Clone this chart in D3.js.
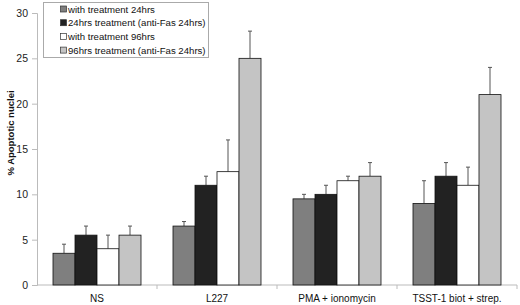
<!DOCTYPE html>
<html>
<head>
<meta charset="utf-8">
<script src="https://cdn.jsdelivr.net/npm/d3@7"></script>
<style>
  body { margin: 0; background: #fff; }
  text { font-family: "Liberation Sans", Arial, sans-serif; }
</style>
</head>
<body>
<svg id="chart" width="520" height="305"></svg>
<script>
var width = 520, height = 305

var categories = ['NS', 'L227', 'PMA + ionomycin', 'TSST-1 biot + strep.']
var seriesNames = ['with treatment 24hrs', '24hrs treatment (anti-Fas 24hrs)',
                   'with treatment 96hrs', '96hrs treatment (anti-Fas 24hrs)']
var seriesColors = ['#7f7f7f', '#222222', '#ffffff', '#c4c4c4']
var values = [
  [3.5, 6.5, 9.5, 9],
  [5.5, 11, 10, 12],
  [4, 12.5, 11.5, 11],
  [5.5, 25, 12, 21]
]
var errors = [
  [1, 0.5, 0.5, 2.5],
  [1, 1, 1, 1.5],
  [1.5, 3.5, 0.5, 2],
  [1, 3, 1.5, 3]
]
var yTicks = [0, 5, 10, 15, 20, 25, 30]

var margin = {left: 37, right: 3, top: 13, bottom: 20}

var svg = d3.select('#chart')

var x0 = d3.scaleBand()
  .domain(categories)
  .range([margin.left, width - margin.right])
  .paddingInner(0)
  .paddingOuter(0)

var x1 = d3.scaleBand()
  .domain(d3.range(seriesNames.length))
  .range([16, x0.bandwidth() - 16])

var y = d3.scaleLinear()
  .domain([0, 30])
  .range([height - margin.bottom, margin.top])

// y axis
var yAxis = svg.append('g')
  .attr('transform', 'translate(' + margin.left + ',0)')
  .call(d3.axisLeft(y).tickValues(yTicks).tickSize(5).tickPadding(4))
yAxis.select('.domain').attr('stroke', '#bbb')
yAxis.selectAll('.tick line').attr('stroke', '#bbb')
yAxis.selectAll('.tick text').attr('font-size', 10.5).attr('fill', '#222')

// x axis
var xAxis = svg.append('g')
  .attr('transform', 'translate(0,' + y(0) + ')')
xAxis.append('line')
  .attr('x1', margin.left).attr('x2', width - margin.right)
  .attr('stroke', '#bbb')
xAxis.selectAll('.sep')
  .data(categories)
  .enter()
  .append('line')
  .attr('x1', function(d) { return x0(d) + x0.bandwidth() })
  .attr('x2', function(d) { return x0(d) + x0.bandwidth() })
  .attr('y1', 0).attr('y2', 4)
  .attr('stroke', '#bbb')
xAxis.selectAll('text')
  .data(categories)
  .enter()
  .append('text')
  .attr('x', function(d) { return x0(d) + x0.bandwidth() / 2 })
  .attr('y', 16.5)
  .attr('text-anchor', 'middle')
  .attr('font-size', 10)
  .attr('fill', '#111')
  .text(function(d) { return d })

// bars
var groups = svg.selectAll('.grp')
  .data(categories)
  .enter()
  .append('g')
  .attr('transform', function(d) { return 'translate(' + x0(d) + ',0)' })

groups.each(function(cat, ci) {
  var g = d3.select(this)
  seriesNames.forEach(function(s, si) {
    var v = values[si][ci], e = errors[si][ci]
    var bx = x1(si) + x1.bandwidth() / 2
    g.append('line')
      .attr('x1', bx).attr('x2', bx)
      .attr('y1', y(v)).attr('y2', y(v + e))
      .attr('stroke', '#555')
    g.append('line')
      .attr('x1', bx - 2).attr('x2', bx + 2)
      .attr('y1', y(v + e)).attr('y2', y(v + e))
      .attr('stroke', '#555')
    g.append('rect')
      .attr('x', x1(si))
      .attr('y', y(v))
      .attr('width', x1.bandwidth())
      .attr('height', y(0) - y(v))
      .attr('fill', seriesColors[si])
      .attr('stroke', '#111')
      .attr('stroke-width', 0.8)
  })
})

// y label
svg.append('text')
  .attr('transform', 'translate(14,133) rotate(-90)')
  .attr('text-anchor', 'middle')
  .attr('font-size', 9.5)
  .attr('font-weight', 'bold')
  .attr('fill', '#111')
  .text('% Apoptotic nuclei')

// legend
var legend = svg.append('g')
legend.append('rect')
  .attr('x', 43.5).attr('y', 2.5)
  .attr('width', 165).attr('height', 55)
  .attr('fill', '#fff')
  .attr('stroke', '#aaa')
var items = legend.selectAll('.item')
  .data(seriesNames)
  .enter()
  .append('g')
  .attr('transform', function(d, i) { return 'translate(60,' + (9 + i * 13.7) + ')' })
items.append('rect')
  .attr('x', 0.5).attr('y', -3)
  .attr('width', 6).attr('height', 6)
  .attr('fill', function(d, i) { return seriesColors[i] })
  .attr('stroke', '#333')
  .attr('stroke-width', 0.7)
items.append('text')
  .attr('x', 8)
  .attr('y', 3.5)
  .attr('font-size', 9.6)
  .attr('fill', '#111')
  .text(function(d) { return d })
</script>
</body>
</html>
